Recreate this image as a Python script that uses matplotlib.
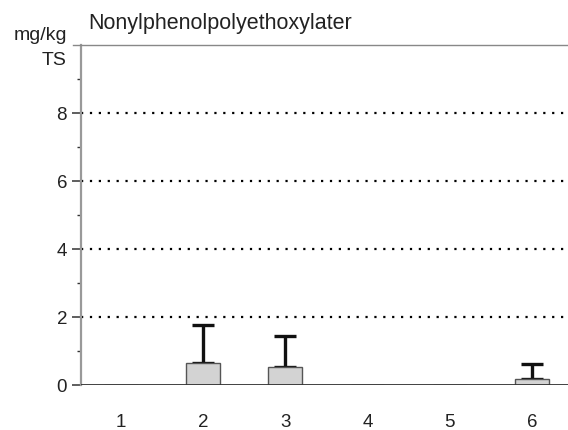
import matplotlib.pyplot as plt
from matplotlib.lines import Line2D

plt.rcParams['font.family'] = ['Liberation Sans', 'DejaVu Sans']

# Sampling sites and measured values (mg/kg TS)
sites = [1, 2, 3, 4, 5, 6]
means = [0, 0.64, 0.52, 0, 0, 0.19]
upper = [0, 1.76, 1.44, 0, 0, 0.62]   # top of the error whisker
yticks = [0, 2, 4, 6, 8]

fig = plt.figure(figsize=(5.68, 4.30), dpi=100)
ax = fig.add_axes([81 / 568, 1 - 385 / 430, 1 - 81 / 568, 340 / 430])

ax.set_xlim(0.514, 6.44)
ax.set_ylim(0, 10)

# dotted reference lines
for y in yticks[1:]:
    ax.axhline(y, color='black', lw=1.6, linestyle=(0, (1, 3)), zorder=1)

ax.bar(sites, means, width=0.41, color='#d3d3d3', edgecolor='#555555',
       linewidth=1.0, zorder=3)

# upper-only error whiskers for sites with data
xs = [s for s, m in zip(sites, means) if m > 0]
ms = [m for m in means if m > 0]
us = [u - m for u, m in zip(upper, means) if m > 0]
ax.errorbar(xs, ms, yerr=[[0] * len(us), us], fmt='none', ecolor='#111111',
            elinewidth=2.4, capsize=8, capthick=2.4, zorder=2)

ax.axhline(0, color='#333333', lw=1.3, zorder=4)

for side in ['top', 'right', 'bottom']:
    ax.spines[side].set_visible(False)
ax.spines['left'].set_color('#999999')
ax.spines['left'].set_linewidth(1.6)

ax.set_yticks(yticks)
ax.set_yticks([1, 3, 5, 7, 9], minor=True)
ax.tick_params(axis='y', which='major', length=6.5, width=1.1, color='#333333',
               labelsize=13.5, pad=3.5, labelcolor='#222222')
ax.tick_params(axis='y', which='minor', length=3, width=1.0, color='#333333')
ax.set_xticks(sites)
ax.tick_params(axis='x', length=0, labelsize=13.5, pad=21, labelcolor='#222222')

# grey line across the top of the plot
fig.add_artist(Line2D([73 / 568, 1.0], [1 - 45 / 430, 1 - 45 / 430],
                      color='#888888', lw=1.0))

fig.text(88 / 568, 1 - 28.5 / 430, 'Nonylphenolpolyethoxylater', fontsize=15.5,
         va='baseline', ha='left', color='#222222')
fig.text(67 / 568, 1 - 40 / 430, 'mg/kg', fontsize=14, va='baseline', ha='right',
         color='#222222')
fig.text(67 / 568, 1 - 65 / 430, 'TS', fontsize=14, va='baseline', ha='right',
         color='#222222')

fig.savefig('out.png', dpi=100)
